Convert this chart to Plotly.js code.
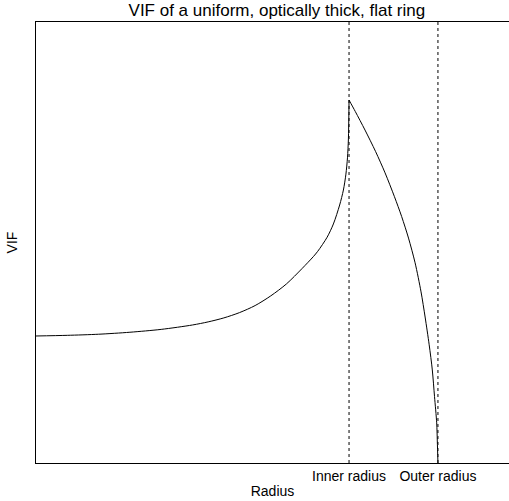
<!DOCTYPE html>
<html>
<head>
<meta charset="utf-8">
<script src="https://cdn.plot.ly/plotly-3.0.1.min.js"></script>
<style>
  html, body { margin: 0; padding: 0; background: #fff; }
  #chart { width: 509px; height: 501px; }
</style>
</head>
<body>
<div id="chart"></div>
<script>
// Radius in units of the inner radius; VIF in arbitrary units.
const radius = [
  0.000, 0.100, 0.200, 0.300, 0.400, 0.500, 0.550, 0.600, 0.650, 0.700,
  0.750, 0.800, 0.850, 0.886, 0.900, 0.930, 0.950, 0.970, 0.982, 0.990,
  0.995, 0.998, 1.000,
  1.020, 1.051, 1.085, 1.115, 1.145, 1.168, 1.190, 1.211, 1.230, 1.243,
  1.256, 1.266, 1.273, 1.280, 1.282, 1.284
];
const vif = [
  0.288, 0.2895, 0.292, 0.2965, 0.303, 0.313, 0.320, 0.329, 0.341, 0.357,
  0.379, 0.406, 0.441, 0.468, 0.480, 0.512, 0.542, 0.585, 0.619, 0.655,
  0.692, 0.735, 0.823,
  0.797, 0.755, 0.706, 0.658, 0.604, 0.559, 0.510, 0.454, 0.388, 0.331,
  0.268, 0.211, 0.151, 0.091, 0.050, 0.000
];

// Ring edges, used for both the tick positions and the dotted guides.
const edgeValues = [1.0, 1.284];
const edgeLabels = ["Inner radius", "Outer radius"];

const font = "Liberation Sans, Arial, sans-serif";

// The profile has a cusp at the inner edge, so each side is smoothed on its own.
const cusp = radius.indexOf(edgeValues[0]);
const inside = { x: radius.slice(0, cusp + 1), y: vif.slice(0, cusp + 1) };
const outside = { x: radius.slice(cusp), y: vif.slice(cusp) };

const traces = [inside, outside].map(part => ({
  x: part.x,
  y: part.y,
  type: "scatter",
  mode: "lines",
  line: { color: "#000", width: 1, shape: "spline", smoothing: 0.8 },
  hoverinfo: "skip"
}));

const guides = edgeValues.map(v => ({
  type: "line",
  xref: "x", yref: "paper",
  x0: v, x1: v, y0: 0, y1: 1,
  line: { color: "#000", width: 1, dash: "dot" }
}));

const layout = {
  width: 509,
  height: 501,
  margin: { l: 36, r: 0, t: 22, b: 38, pad: 0 },
  paper_bgcolor: "#fff",
  plot_bgcolor: "#fff",
  showlegend: false,
  font: { family: font, color: "#000", size: 14 },
  title: {
    text: "VIF of a uniform, optically thick, flat ring",
    font: { family: font, size: 17, color: "#000" },
    x: 0.544, xanchor: "center",
    y: 0.98, yanchor: "middle"
  },
  xaxis: {
    range: [0, 1.511],
    tickmode: "array",
    tickvals: edgeValues,
    ticktext: edgeLabels,
    ticks: "",
    showgrid: false,
    zeroline: false,
    showline: true,
    mirror: true,
    linecolor: "#000",
    linewidth: 1,
    tickfont: { family: font, size: 14, color: "#000" },
    title: { text: "Radius", font: { family: font, size: 14, color: "#000" }, standoff: 3 }
  },
  yaxis: {
    range: [0, 1],
    showticklabels: false,
    ticks: "",
    showgrid: false,
    zeroline: false,
    showline: true,
    linecolor: "#000",
    linewidth: 1,
    title: { text: "VIF", font: { family: font, size: 14, color: "#000" }, standoff: 14 }
  },
  shapes: guides
};

Plotly.newPlot("chart", traces, layout, { displayModeBar: false, staticPlot: true });
</script>
</body>
</html>
